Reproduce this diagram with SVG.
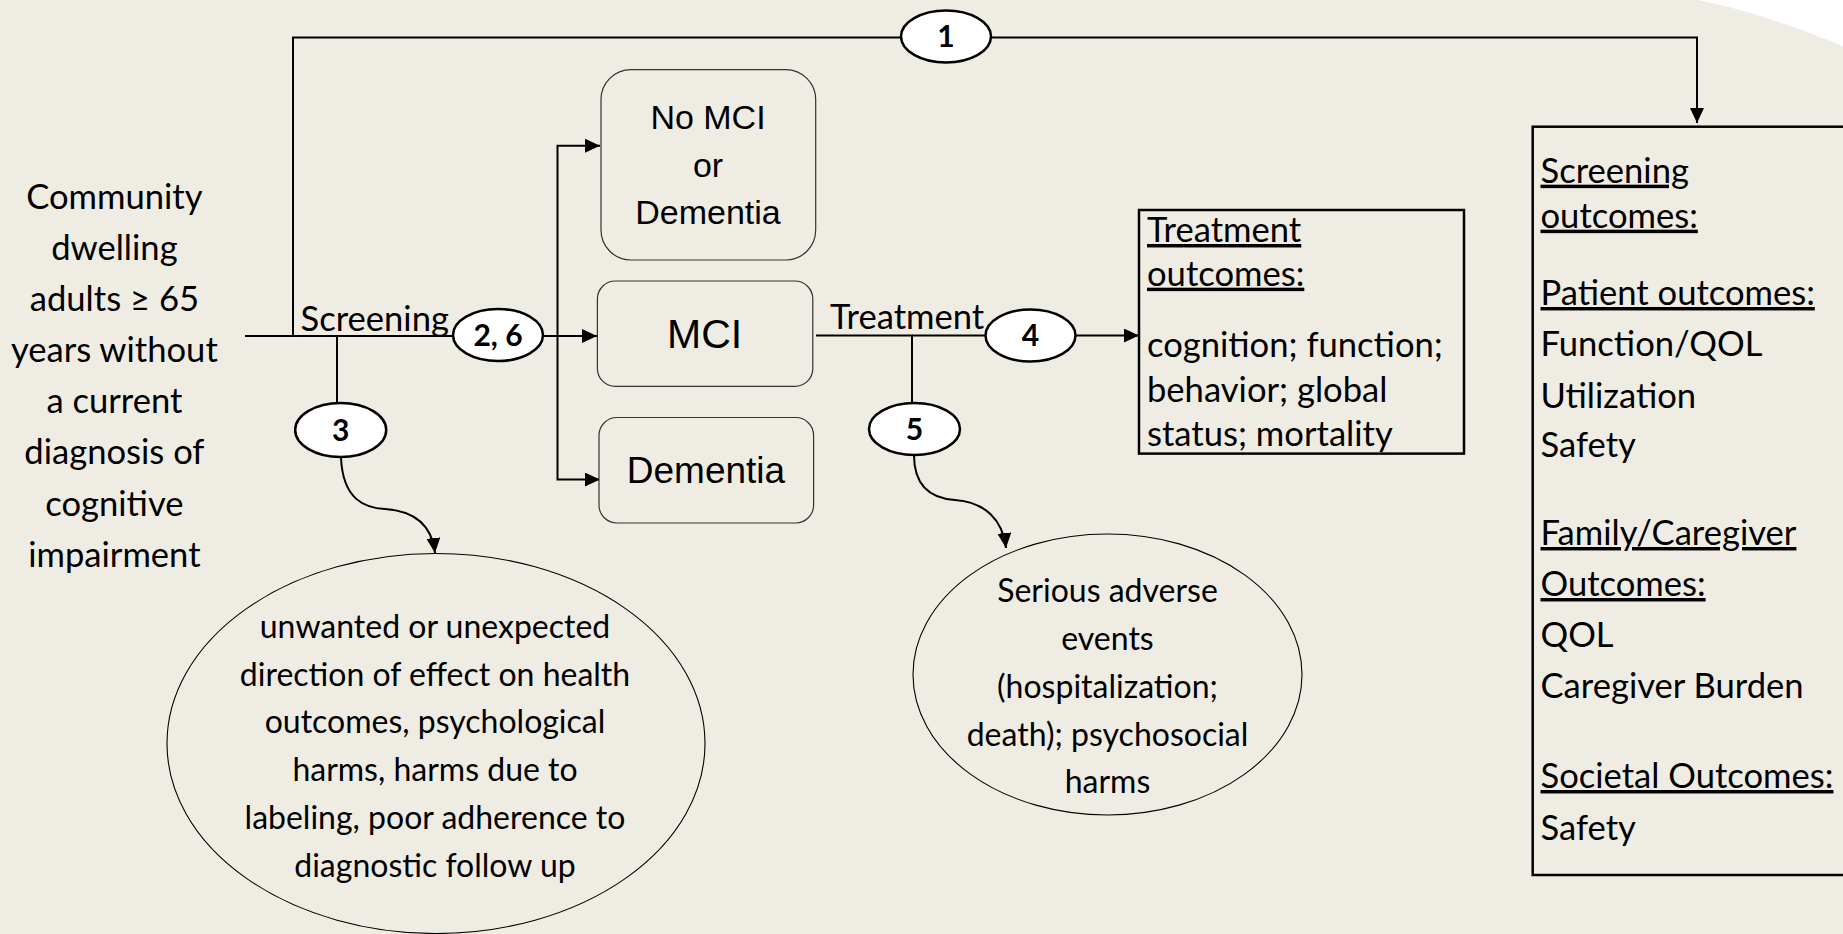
<svg xmlns="http://www.w3.org/2000/svg" width="1843" height="934" viewBox="0 0 1843 934">
<defs>
<style>
.bg{fill:#EFEDE3}
.ln{fill:none;stroke:#000;stroke-width:2}
.num{fill:#fff;stroke:#000;stroke-width:2.5}
.rbox{fill:#EFEDE3;stroke:#333;stroke-width:1.2}
.obox{fill:none;stroke:#000;stroke-width:2.5}
.oval{fill:none;stroke:#000;stroke-width:1.1}
.t{font-family:Lato,"Liberation Sans",sans-serif;font-size:34.6px;fill:#000}
.te{font-family:Lato,"Liberation Sans",sans-serif;font-size:32px;fill:#000;text-anchor:middle}
.tc{text-anchor:middle}
.u{text-decoration:underline}
.n{font-family:Lato,"Liberation Sans",sans-serif;font-size:30px;font-weight:bold;fill:#000;text-anchor:middle}
.a{font-family:"Liberation Sans",Arial,sans-serif;fill:#000;text-anchor:middle}
</style>
<marker id="ah" markerUnits="userSpaceOnUse" markerWidth="16" markerHeight="14" refX="15" refY="7" orient="auto">
<path d="M0,0 L15,7 L0,14 Z" fill="#000"/>
</marker>
</defs>
<rect class="bg" x="0" y="0" width="1843" height="934"/>
<path d="M1698,0 Q1760,12 1843,46 L1843,0 Z" fill="#fff"/>

<g id="connectors">
<path class="ln" d="M293,335 V37.5 H1697 V123" marker-end="url(#ah)"/>
<path class="ln" d="M245,336 H597" marker-end="url(#ah)"/>
<path class="ln" d="M557.5,336 V145.7 H600" marker-end="url(#ah)"/>
<path class="ln" d="M557.5,336 V479.6 H600" marker-end="url(#ah)"/>
<path class="ln" d="M337,337 V404"/>
<path class="ln" d="M816,335.5 H1139" marker-end="url(#ah)"/>
<path class="ln" d="M912,336 V403"/>
<path class="ln" d="M341,458 C343,500 365,508 385,509 C415,511 432,525 435,553" marker-end="url(#ah)"/>
<path class="ln" d="M914,455 C914,480 925,498 955,500 C985,502 1003,520 1006,548" marker-end="url(#ah)"/>
<text class="t" x="300.5" y="331">Screening</text>
<text class="t" x="830" y="329">Treatment</text>
</g>

<g id="population">
<text class="t tc" x="114.4" y="209">Community</text>
<text class="t tc" x="114.4" y="260">dwelling</text>
<text class="t tc" x="114.4" y="311">adults ≥ 65</text>
<text class="t tc" x="114.4" y="362">years without</text>
<text class="t tc" x="114.4" y="413">a current</text>
<text class="t tc" x="114.4" y="464">diagnosis of</text>
<text class="t tc" x="114.4" y="516">cognitive</text>
<text class="t tc" x="114.4" y="567">impairment</text>
</g>

<g id="kq1"><ellipse class="num" cx="946" cy="36.5" rx="45" ry="26"/><text class="n" x="946" y="47">1</text></g>
<g id="kq26"><ellipse class="num" cx="498" cy="335" rx="45" ry="26"/><text class="n" x="498" y="345.5">2, 6</text></g>
<g id="kq3"><ellipse class="num" cx="340.7" cy="430" rx="45.5" ry="27"/><text class="n" x="340.7" y="440.5">3</text></g>
<g id="kq4"><ellipse class="num" cx="1030.5" cy="335.5" rx="45" ry="26"/><text class="n" x="1030.5" y="346">4</text></g>
<g id="kq5"><ellipse class="num" cx="914.5" cy="429" rx="45.5" ry="26"/><text class="n" x="914.5" y="439.5">5</text></g>

<g id="nomci">
<rect class="rbox" x="601" y="69.6" width="214.7" height="190.4" rx="30" ry="30"/>
<text class="a" x="708" y="128.6" font-size="34">No MCI</text>
<text class="a" x="708" y="176.8" font-size="34">or</text>
<text class="a" x="708" y="224" font-size="34">Dementia</text>
</g>
<g id="mci">
<rect class="rbox" x="597.4" y="281" width="215.4" height="105.4" rx="18" ry="18"/>
<text class="a" x="704.6" y="348" font-size="41">MCI</text>
</g>
<g id="dementia">
<rect class="rbox" x="599" y="417.5" width="214.6" height="105.5" rx="18" ry="18"/>
<text class="a" x="706" y="482.5" font-size="37">Dementia</text>
</g>

<g id="treatment-outcomes">
<rect class="obox" x="1139" y="210" width="325" height="243.6"/>
<text class="t u" x="1147" y="242">Treatment</text>
<text class="t u" x="1147" y="285.7">outcomes:</text>
<text class="t" x="1147" y="357">cognition; function;</text>
<text class="t" x="1147" y="401.8">behavior; global</text>
<text class="t" x="1147" y="446">status; mortality</text>
</g>

<g id="screening-outcomes">
<rect class="obox" x="1532.7" y="126.7" width="340" height="748.3"/>
<text class="t u" x="1540.5" y="182.7">Screening</text>
<text class="t u" x="1540.5" y="227.7">outcomes:</text>
<text class="t u" x="1540.5" y="305">Patient outcomes:</text>
<text class="t" x="1540.5" y="356">Function/QOL</text>
<text class="t" x="1540.5" y="408">Utilization</text>
<text class="t" x="1540.5" y="457">Safety</text>
<text class="t u" x="1540.5" y="545">Family/Caregiver</text>
<text class="t u" x="1540.5" y="596">Outcomes:</text>
<text class="t" x="1540.5" y="646.7">QOL</text>
<text class="t" x="1540.5" y="698">Caregiver Burden</text>
<text class="t u" x="1540.5" y="788">Societal Outcomes:</text>
<text class="t" x="1540.5" y="840">Safety</text>
</g>

<g id="screening-harms">
<ellipse class="oval" cx="436" cy="743.5" rx="269" ry="190"/>
<text class="te" x="435" y="638">unwanted or unexpected</text>
<text class="te" x="435" y="686">direction of effect on health</text>
<text class="te" x="435" y="733">outcomes, psychological</text>
<text class="te" x="435" y="781">harms, harms due to</text>
<text class="te" x="435" y="829">labeling, poor adherence to</text>
<text class="te" x="435" y="877">diagnostic follow up</text>
</g>

<g id="treatment-harms">
<ellipse class="oval" cx="1107.5" cy="674.5" rx="194.5" ry="140.5"/>
<text class="te" x="1107.5" y="601.7">Serious adverse</text>
<text class="te" x="1107.5" y="650">events</text>
<text class="te" x="1107.5" y="698">(hospitalization;</text>
<text class="te" x="1107.5" y="746">death); psychosocial</text>
<text class="te" x="1107.5" y="793">harms</text>
</g>
</svg>
